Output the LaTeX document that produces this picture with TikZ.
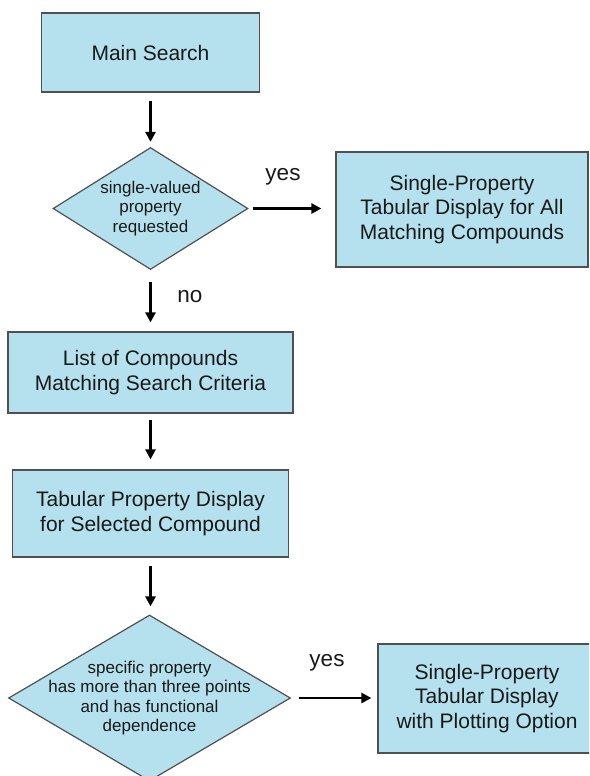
\documentclass[tikz,border=0pt]{standalone}
\usepackage{fontspec}
\setmainfont{Liberation Sans}
\usetikzlibrary{shapes.geometric,arrows.meta}
\definecolor{boxfill}{RGB}{181,225,238}
\definecolor{boxline}{RGB}{80,80,80}
\definecolor{txt}{RGB}{25,25,25}
\tikzset{
  procbox/.style={draw=boxline, line width=1.2pt, fill=boxfill, rectangle, inner sep=0pt,
    align=center, text=txt, font=\fontsize{21}{24.5}\selectfont},
  decision/.style={draw=boxline, line width=1.2pt, fill=boxfill, diamond, inner sep=0pt},
  dectext/.style={align=center, inner sep=0pt, text=txt, font=\fontsize{17}{19.5}\selectfont},
  flowarrow/.style={line width=2.6pt, draw=black, -{Triangle[length=10pt,width=10pt]}},
  lbl/.style={inner sep=0pt, text=txt, font=\fontsize{22.5}{26}\selectfont}
}
\begin{document}
\begin{tikzpicture}[x=1pt,y=-1pt]
\useasboundingbox (0,0) rectangle (589,776);
\clip (0,0) rectangle (589,776);
% nodes
\node[procbox, minimum width=218pt, minimum height=79pt] (main) at (150.5,52.5) {Main Search};
\node[decision, minimum width=195pt, minimum height=122pt] (d1) at (150.5,208.5) {};
\node[dectext] (d1t) at (d1.center) {single-valued\\property\\requested};
\node[procbox, minimum width=252pt, minimum height=115pt] (all) at (462,209.5) {Single-Property\\Tabular Display for All\\Matching Compounds};
\node[procbox, minimum width=285pt, minimum height=81pt] (list) at (150.5,372.5) {List of Compounds\\Matching Search Criteria};
\node[procbox, minimum width=276pt, minimum height=87pt] (tab) at (150.5,513.5) {Tabular Property Display\\for Selected Compound};
\node[decision, minimum width=282pt, minimum height=166pt] (d2) at (149.5,698) {};
\node[dectext] (d2t) at (d2.center) {specific property\\has more than three points\\and has functional\\dependence};
\node[procbox, minimum width=218pt, minimum height=109pt] (plot) at (487,698.5) {Single-Property\\Tabular Display\\with Plotting Option};
% labels
\node[lbl] (yes1) at (283,177) {yes};
\node[lbl] (no1) at (190,297) {no};
\node[lbl] (yes2) at (327,663) {yes};
% connectors
\draw[flowarrow, shorten <=8pt, shorten >=5pt] (main.south) -- (d1.north);
\draw[flowarrow, shorten <=4pt, shorten >=14pt] (d1.east) -- (d1.east -| all.west);
\draw[flowarrow, shorten <=12pt, shorten >=9pt] (d1.south) -- (list.north);
\draw[flowarrow, shorten <=6pt, shorten >=10pt] (list.south) -- (tab.north);
\draw[flowarrow, shorten <=8pt, shorten >=8pt] (tab.south) -- (tab.south |- d2.north);
\draw[flowarrow, shorten <=8pt, shorten >=6pt] (d2.east) -- (d2.east -| plot.west);
\end{tikzpicture}
\end{document}
